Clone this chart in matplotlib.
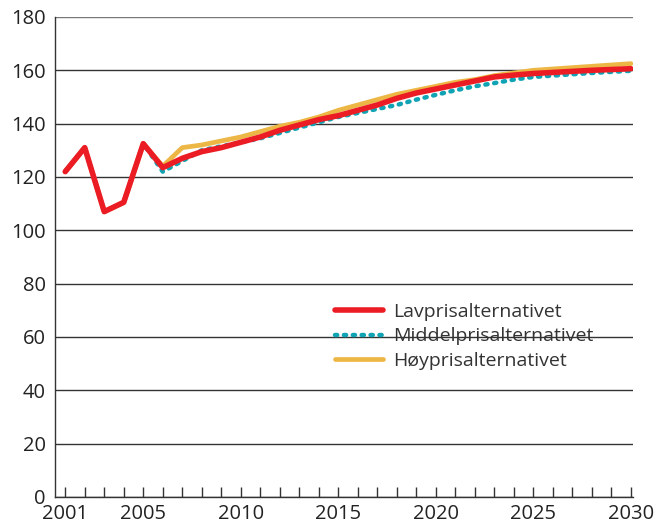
import numpy as np
import matplotlib.pyplot as plt

years = np.arange(2001, 2031)
history = [122, 131, 107, 110.5, 132.5]
lav = history + [123.5, 127, 129.5, 131, 133, 135, 137.5, 139.5, 141.5, 143,
                 145, 147, 149.5, 151.5, 153, 154.5, 156, 157.5, 158.2, 158.8,
                 159.2, 159.6, 160, 160.3, 160.6]
middel = history + [122, 126, 130, 131.5, 133, 134.5, 136.5, 138.5, 140.5, 142.5,
                    144, 145.5, 147, 149, 150.8, 152.5, 154, 155.2, 156.5, 157.5,
                    158, 158.5, 159, 159.4, 159.8]
hoy = history + [124, 131, 132, 133.5, 135, 137, 139, 140.5, 142.5, 145,
                 147, 149, 151, 152.5, 154, 155.5, 156.5, 158, 159, 160,
                 160.5, 161, 161.5, 162, 162.5]
labels = ['Lavprisalternativet', 'Middelprisalternativet', 'Høyprisalternativet']
xticklabels = [2001, 2005, 2010, 2015, 2020, 2025, 2030]

plt.rcParams['font.family'] = ['Open Sans', 'DejaVu Sans']
fig = plt.figure(figsize=(6.62, 5.30), dpi=100)
ax = fig.add_axes([0.0838, 0.0623, 0.8722, 0.9057])

ax.set_axisbelow(True)
ax.yaxis.grid(True, color='#333333', linewidth=1.0)
h3, = ax.plot(years, hoy, color='#EDB746', linewidth=3.4, solid_capstyle='round', zorder=3)
h2, = ax.plot(years, middel, color='#0FA3B4', linewidth=3.2, linestyle=(0, (0.5, 1.5)),
              dash_capstyle='round', zorder=4)
h1, = ax.plot(years, lav, color='#EC1C24', linewidth=4.0, solid_capstyle='round', zorder=5)

ax.set_xlim(2000.5, 2030.1)
ax.set_ylim(0, 180)
ax.set_yticks(np.arange(0, 181, 20))
ax.set_xticks(years, minor=True)
ax.set_xticks(xticklabels)
ax.tick_params(axis='y', length=0, pad=7, labelsize=14.5, labelcolor='#222222')
ax.tick_params(axis='x', which='both', direction='in', length=7, width=1,
               color='#333333', labelsize=14.5, labelcolor='#222222', pad=5)
for s in ['top', 'right']:
    ax.spines[s].set_visible(False)
for s in ['left', 'bottom']:
    ax.spines[s].set_color('#333333')
    ax.spines[s].set_linewidth(1.0)
ax.get_ygridlines()[-1].set_color('#777777')

leg = ax.legend([h1, h2, h3], labels, loc='upper left', bbox_to_anchor=(0.47, 0.42),
                frameon=False, fontsize=14, handlelength=2.5, labelspacing=0.32,
                handletextpad=0.5, borderaxespad=0)
for t in leg.get_texts():
    t.set_color('#333333')

fig.savefig('out.png', dpi=100)
